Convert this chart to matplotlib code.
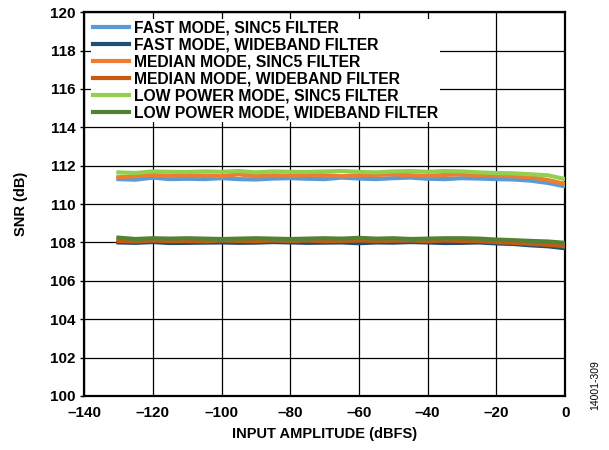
import matplotlib
matplotlib.use('Agg')
import matplotlib.pyplot as plt
from matplotlib.ticker import FuncFormatter

plt.rcParams['font.family'] = ['Liberation Sans', 'DejaVu Sans']

# input amplitude (dBFS)
amplitude = [-130, -125, -120, -115, -110, -105, -100, -95, -90, -85, -80, -75, -70,
             -65, -60, -55, -50, -45, -40, -35, -30, -25, -20, -15, -10, -5, 0]

# SNR (dB) per mode / filter
fast_sinc5 = [111.30, 111.27, 111.38, 111.30, 111.32, 111.30, 111.35, 111.30, 111.28,
              111.33, 111.35, 111.32, 111.30, 111.38, 111.33, 111.30, 111.35, 111.38,
              111.32, 111.30, 111.35, 111.33, 111.30, 111.28, 111.22, 111.10, 110.92]
fast_wide = [108.00, 107.98, 108.02, 107.97, 107.98, 107.99, 108.00, 107.98, 107.99,
             108.02, 108.00, 107.98, 107.99, 108.00, 107.96, 108.00, 107.99, 108.02,
             108.00, 107.97, 107.98, 108.00, 107.95, 107.92, 107.85, 107.80, 107.70]
median_sinc5 = [111.40, 111.45, 111.52, 111.47, 111.50, 111.48, 111.45, 111.55, 111.45,
                111.50, 111.47, 111.52, 111.50, 111.45, 111.50, 111.52, 111.55, 111.50,
                111.47, 111.52, 111.55, 111.50, 111.48, 111.45, 111.40, 111.25, 111.05]
median_wide = [108.08, 108.05, 108.10, 108.07, 108.08, 108.06, 108.10, 108.08, 108.07,
               108.10, 108.08, 108.10, 108.07, 108.08, 108.10, 108.08, 108.09, 108.10,
               108.07, 108.10, 108.08, 108.07, 108.02, 107.98, 107.92, 107.88, 107.80]
lowpower_sinc5 = [111.65, 111.62, 111.70, 111.68, 111.67, 111.70, 111.68, 111.72, 111.65,
                  111.70, 111.68, 111.67, 111.70, 111.72, 111.68, 111.65, 111.70, 111.72,
                  111.68, 111.72, 111.70, 111.65, 111.62, 111.60, 111.55, 111.50, 111.30]
lowpower_wide = [108.25, 108.18, 108.22, 108.20, 108.22, 108.20, 108.18, 108.20, 108.22,
                 108.20, 108.18, 108.20, 108.22, 108.20, 108.24, 108.20, 108.22, 108.18,
                 108.20, 108.22, 108.22, 108.20, 108.15, 108.12, 108.08, 108.05, 107.98]

series = [
    ("FAST MODE, SINC5 FILTER", fast_sinc5, '#5B9BD5'),
    ("FAST MODE, WIDEBAND FILTER", fast_wide, '#1F4E79'),
    ("MEDIAN MODE, SINC5 FILTER", median_sinc5, '#ED7D31'),
    ("MEDIAN MODE, WIDEBAND FILTER", median_wide, '#C55A11'),
    ("LOW POWER MODE, SINC5 FILTER", lowpower_sinc5, '#92D050'),
    ("LOW POWER MODE, WIDEBAND FILTER", lowpower_wide, '#548235'),
]

fig = plt.figure(figsize=(6.09, 4.5), dpi=100)
ax = fig.add_axes([0.138, 0.12, 0.79, 0.853])

for label, vals, color in series:
    ax.plot(amplitude, vals, color=color, lw=3, label=label, zorder=3)

ax.set_xlim(-140, 0)
ax.set_ylim(100, 120)
ax.set_xticks(range(-140, 1, 20))
ax.set_yticks(range(100, 121, 2))
ax.xaxis.set_major_formatter(FuncFormatter(lambda v, p: f"{int(v)}".replace('-', '\u2013')))
ax.grid(True, color='black', lw=0.9, zorder=0)
ax.set_axisbelow(True)
for sp in ax.spines.values():
    sp.set_linewidth(1.6)
ax.tick_params(axis='x', length=0, pad=7, labelsize=11)
ax.tick_params(axis='y', length=3, width=1, pad=3, labelsize=11)
for t in ax.get_xticklabels() + ax.get_yticklabels():
    t.set_fontweight('bold')

ax.set_xlabel('INPUT AMPLITUDE (dBFS)', fontsize=10.5, fontweight='bold', labelpad=5)
ax.set_ylabel('SNR (dB)', fontsize=10.5, fontweight='bold', labelpad=16)

leg = ax.legend(loc='upper left', prop={'weight': 'bold', 'size': 11.3},
                frameon=True, facecolor='white', edgecolor='none', framealpha=1,
                handlelength=2.3, handletextpad=0.35, labelspacing=0.12,
                borderpad=0.1, borderaxespad=0.45)
leg.set_zorder(5)

fig.text(0.977, 0.09, '14001-309', rotation=90, fontsize=7.5, ha='center', va='bottom')

fig.savefig('out.png', dpi=100)
